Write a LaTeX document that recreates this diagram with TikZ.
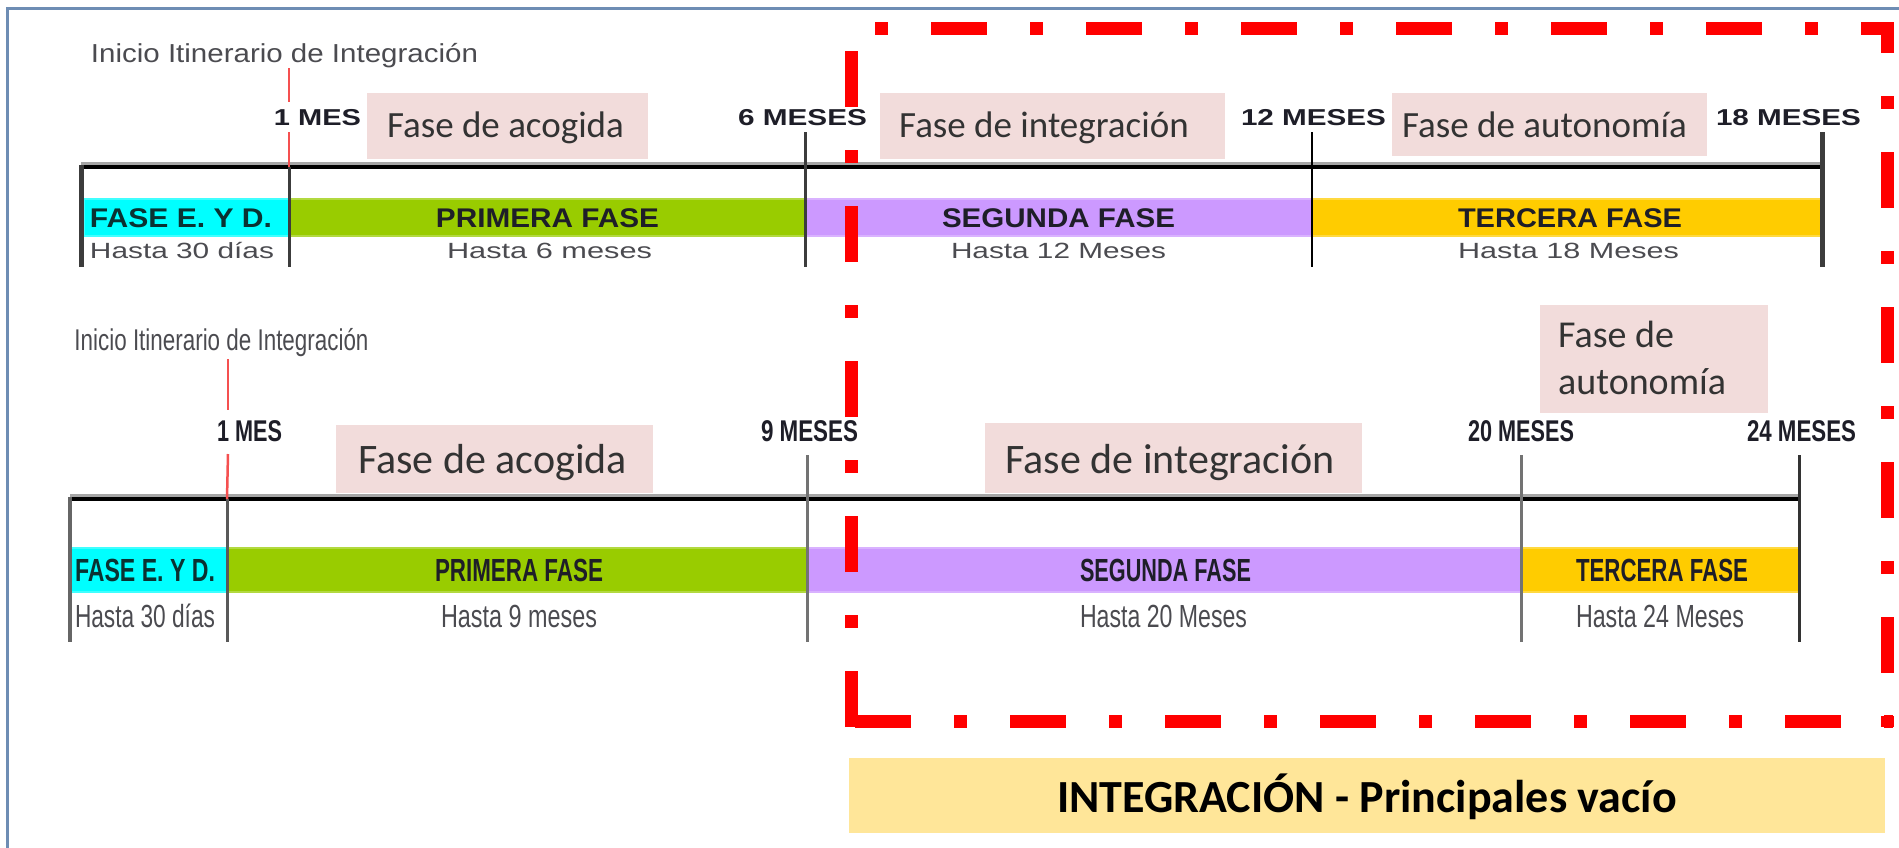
\documentclass[tikz,border=0pt]{standalone}
\usepackage{fontspec}
\setmainfont{Liberation Sans}
\newfontfamily\calfont{Carlito}
\usepackage{graphicx}
\definecolor{framec}{RGB}{110,141,180}
\definecolor{pinkc}{RGB}{242,220,219}
\definecolor{cyanc}{RGB}{0,255,255}
\definecolor{greenc}{RGB}{153,204,0}
\definecolor{purplec}{RGB}{204,153,255}
\definecolor{yellowc}{RGB}{255,204,0}
\definecolor{boxy}{RGB}{255,230,153}
\definecolor{redl}{RGB}{245,80,80}
\definecolor{txtg}{RGB}{75,75,80}
\definecolor{txtd}{RGB}{30,30,40}
\definecolor{tickc}{RGB}{60,60,60}
\newcommand\fitw[2]{\resizebox{#1pt}{\height}{#2}}
\newcommand\fs[1]{\fontsize{#1}{#1}\selectfont}
\begin{document}
\begin{tikzpicture}[x=1pt,y=-1pt,
  lbl/.style={inner sep=0pt, anchor=base},
  lblw/.style={inner sep=0pt, anchor=base west},
  pinkbox/.style={fill=pinkc, draw=none},
  barbox/.style={draw=#1!75!white, line width=2.5pt, fill=#1},
  axisl/.style={line width=4pt, black},
  axishalo/.style={line width=7pt, black!35},
  tickl/.style={line width=3pt, tickc},
  tickthick/.style={line width=5pt, tickc},
  redtick/.style={line width=2.5pt, redl},
  reddash/.style={line width=13pt, red, dash pattern=on 56pt off 43pt on 13pt off 43pt},
  mes/.style={lbl, text=txtd, font=\bfseries},
  bart/.style={lbl, text=txtd, font=\bfseries},
  subt/.style={lbl, text=txtg},
  faset/.style={lbl, text=black!80, font=\calfont},
]
\useasboundingbox (0,0) rectangle (1899,847);
% outer frame
\draw[framec, line width=3pt] (7,850) -- (7,8) -- (1902,8);

% ================= TIMELINE 1 =================
\node[pinkbox, minimum width=281, minimum height=66, inner sep=0pt] (p1a) at (507.5,126) {};
\node[pinkbox, minimum width=345, minimum height=66, inner sep=0pt] (p1b) at (1052.5,126) {};
\node[pinkbox, minimum width=315, minimum height=63, inner sep=0pt] (p1c) at (1549.5,124.5) {};
\node[faset] (f1a) at (505.5,137) {\fs{37}Fase de acogida};
\node[faset] (f1b) at (1044,137) {\fs{37}Fase de integración};
\node[faset] (f1c) at (1544.5,137) {\fs{37}Fase de autonomía};

% bars
\path[barbox=cyanc] (84,199) rectangle (289,236);
\path[barbox=greenc] (289,199) rectangle (805,236);
\path[barbox=purplec] (805,199) rectangle (1312,236);
\path[barbox=yellowc] (1312,199) rectangle (1822,236);

% axis and ticks
\coordinate (a0) at (81,167); \coordinate (a0b) at (81,267);
\coordinate (a1) at (289,167); \coordinate (a1b) at (289,267);
\coordinate (a2t) at (805,132); \coordinate (a2b) at (805,267);
\coordinate (a3t) at (1312,132); \coordinate (a3b) at (1312,267);
\coordinate (a4t) at (1822,132); \coordinate (a4b) at (1822,267);
\coordinate (a4) at (1822,167);
\draw[axishalo] ([yshift=1.5pt]a0) -- ([yshift=1.5pt]a4);
\draw[axisl] (a0) -- (a4);
\draw[tickthick] (81,165) -- (a0b);
\draw[tickl] (a1) -- (a1b);
\draw[tickl] (a2t) -- (a2b);
\draw[tickl, black, line width=2.5pt] (a3t) -- (a3b);
\draw[tickthick] (a4t) -- (a4b);
\coordinate (r1a) at (289,68); \coordinate (r1b) at (289,102);
\coordinate (r1c) at (289,132);
\draw[redtick] (r1a) -- (r1b);
\draw[redtick] (r1c) -- (a1);

% labels
\node[lbl, text=txtg] (i1) at (284.5,62) {\fitw{387}{\fs{26}Inicio Itinerario de Integración}};
\node[mes] (m1a) at (317.5,125) {\fitw{87}{\fs{23}1 MES}};
\node[mes] (m1b) at (802.5,125) {\fitw{129}{\fs{23}6 MESES}};
\node[mes] (m1c) at (1313.5,125) {\fitw{145}{\fs{23}12 MESES}};
\node[mes] (m1d) at (1788.5,125) {\fitw{145}{\fs{23}18 MESES}};

\node[bart, text={rgb,255:red,10;green,50;blue,50}] (b1a) at (181,227) {\fitw{182}{\fs{27}FASE E. Y D.}};
\node[bart] (b1b) at (547.5,227) {\fitw{223}{\fs{27}PRIMERA FASE}};
\node[bart] (b1c) at (1058.5,227) {\fitw{233}{\fs{27}SEGUNDA FASE}};
\node[bart] (b1d) at (1570,227) {\fitw{224}{\fs{27}TERCERA FASE}};

\node[subt] (s1a) at (182,258) {\fitw{184}{\fs{22}Hasta 30 días}};
\node[subt] (s1b) at (549.5,258) {\fitw{205}{\fs{22}Hasta 6 meses}};
\node[subt] (s1c) at (1058.5,258) {\fitw{215}{\fs{22}Hasta 12 Meses}};
\node[subt] (s1d) at (1568.5,258) {\fitw{221}{\fs{22}Hasta 18 Meses}};

% ================= TIMELINE 2 =================
\node[pinkbox, minimum width=317, minimum height=68, inner sep=0pt] (p2a) at (494.5,459) {};
\node[pinkbox, minimum width=377, minimum height=70, inner sep=0pt] (p2b) at (1173.5,458) {};
\node[pinkbox, minimum width=228, minimum height=108, inner sep=0pt] (p2c) at (1654,359) {};
\node[faset] (f2a) at (492.5,473) {\fs{42}Fase de acogida};
\node[faset] (f2b) at (1170,473) {\fs{42}Fase de integración};
\node[lblw, text=black!80, font=\calfont] (f2c) at (1558,347) {\fs{38}Fase de};
\node[lblw, text=black!80, font=\calfont] (f2d) at (1558,394) {\fs{38}autonomía};

\path[barbox=cyanc] (70,548) rectangle (227,592);
\path[barbox=greenc] (227,548) rectangle (807,592);
\path[barbox=purplec] (807,548) rectangle (1521,592);
\path[barbox=yellowc] (1521,548) rectangle (1799,592);

\coordinate (c0) at (70,499); \coordinate (c0b) at (70,642);
\coordinate (c1) at (227,499); \coordinate (c1b) at (227,642);
\coordinate (c2t) at (807,455); \coordinate (c2b) at (807,642);
\coordinate (c3t) at (1521,455); \coordinate (c3b) at (1521,642);
\coordinate (c4t) at (1799,455); \coordinate (c4b) at (1799,642);
\coordinate (c4) at (1799,499);
\draw[axishalo] ([yshift=1.5pt]c0) -- ([yshift=1.5pt]c4);
\draw[axisl, line width=4.5pt] (c0) -- (c4);
\draw[tickl, black!60, line width=4pt] (70,497) -- (c0b);
\draw[tickl, black!65] (c1) -- (c1b);
\draw[tickl, black!55] (c2t) -- (c2b);
\draw[tickl, black!55] (c3t) -- (c3b);
\draw[tickl, black!80] (c4t) -- (c4b);
\coordinate (r2a) at (228,359); \coordinate (r2b) at (228,410);
\coordinate (r2c) at (228,454);
\draw[redtick] (r2a) -- (r2b);
\draw[redtick] (r2c) -- (c1);

\node[lbl, text=txtg] (i2) at (221.5,350) {\fitw{294}{\fs{30}Inicio Itinerario de Integración}};
\node[mes] (m2a) at (249.5,441) {\fitw{65}{\fs{30}1 MES}};
\node[mes] (m2b) at (809.5,441) {\fitw{97}{\fs{30}9 MESES}};
\node[mes] (m2c) at (1521,441) {\fitw{106}{\fs{30}20 MESES}};
\node[mes] (m2d) at (1801.5,441) {\fitw{109}{\fs{30}24 MESES}};

\node[bart, text={rgb,255:red,10;green,50;blue,50}] (b2a) at (145,581) {\fitw{140}{\fs{32}FASE E. Y D.}};
\node[bart] (b2b) at (519,581) {\fitw{168}{\fs{32}PRIMERA FASE}};
\node[bart] (b2c) at (1165.5,581) {\fitw{171}{\fs{32}SEGUNDA FASE}};
\node[bart] (b2d) at (1662,581) {\fitw{172}{\fs{32}TERCERA FASE}};

\node[subt] (s2a) at (145,627) {\fitw{140}{\fs{32}Hasta 30 días}};
\node[subt] (s2b) at (519,627) {\fitw{156}{\fs{32}Hasta 9 meses}};
\node[subt] (s2c) at (1163.5,627) {\fitw{167}{\fs{32}Hasta 20 Meses}};
\node[subt] (s2d) at (1660,627) {\fitw{168}{\fs{32}Hasta 24 Meses}};

% ================= RED DASH-DOT FRAME =================
\coordinate (q1) at (851,727); \coordinate (q2) at (851,28);
\coordinate (q3) at (845,28); \coordinate (q4) at (1893,28);
\coordinate (q5) at (1887,22); \coordinate (q6) at (1887,727);
\coordinate (q7) at (855,721); \coordinate (q8) at (1893,721);
\draw[reddash] (q1) -- (q2);
\draw[reddash, dash phase=69pt] (q3) -- (q4);
\draw[reddash, dash phase=25pt] (q5) -- (q6);
\draw[reddash] (q7) -- (q8);

% ================= BOTTOM BOX =================
\node[fill=boxy, minimum width=1036, minimum height=75, inner sep=0pt] (yb) at (1367,795.5) {};
\node[lbl, font=\calfont\bfseries] (ybt) at (1367,812) {\fs{46}INTEGRACIÓN - Principales vacío};
\end{tikzpicture}
\end{document}
